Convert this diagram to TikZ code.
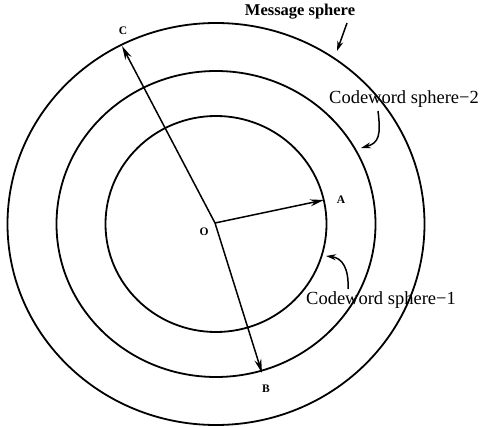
\documentclass[tikz,border=0pt]{standalone}
\usepackage{fontspec}
\setmainfont{Liberation Serif}
\usetikzlibrary{arrows.meta}
\begin{document}
\begin{tikzpicture}[x=1pt,y=-1pt,
  sphere/.style={line width=1.8pt},
  ray/.style={line width=1.5pt,-{Stealth[length=14pt,width=7pt]}},
  pointer/.style={line width=1.5pt,-{Stealth[length=10pt,width=6pt]}},
  pt/.style={font=\bfseries\fontsize{11.5}{13}\selectfont,inner sep=1pt},
  lbl/.style={font=\fontsize{18.5}{21}\selectfont,inner sep=0pt}]
\useasboundingbox (0,0) rectangle (481,427);
% spheres
\draw[sphere] (216,224) ellipse [x radius=208.5,y radius=201];
\draw[sphere] (216,224) ellipse [x radius=159.5,y radius=153];
\draw[sphere] (216,224) ellipse [x radius=110.5,y radius=108];
% points
\coordinate (O) at (215,223);
\coordinate (A) at (324,200);
\coordinate (B) at (262,373);
\coordinate (C) at (122,46);
\node[pt] (Olab) at (204,232) {O};
\node[pt] (Alab) at (341,200) {A};
\node[pt] (Blab) at (266,389) {B};
\node[pt] (Clab) at (123,31) {C};
\draw[ray] (O) -- (A);
\draw[ray] (O) -- (B);
\draw[ray] (O) -- (C);
% labels
\node[lbl,font=\bfseries\fontsize{16.5}{19}\selectfont] (msg) at (300,12) {Message sphere};
\node[lbl] (cw2) at (404,99) {Codeword sphere−2};
\node[lbl] (cw1) at (381,300) {Codeword sphere−1};
\coordinate (m0) at (347,23);
\coordinate (m1) at (337,51);
\coordinate (c20) at (378,111);
\coordinate (c21) at (361,148);
\coordinate (c10) at (348,289);
\coordinate (c11) at (326,256);
\draw[pointer] (m0) -- (m1);
\draw[pointer] (c20) .. controls (381,135) and (379,143) .. (c21);
\draw[pointer] (c10) .. controls (349,268) and (342,258) .. (c11);
\end{tikzpicture}
\end{document}
